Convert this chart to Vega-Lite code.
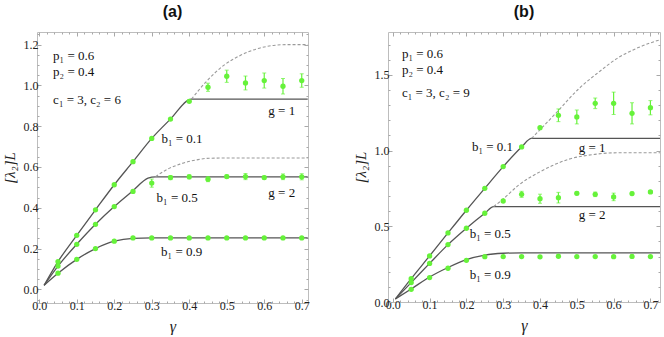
{
  "$schema": "https://vega.github.io/schema/vega-lite/v6.json",
  "padding": {"left": 1, "top": 3, "right": 0, "bottom": 0},
  "spacing": 41,
  "config": {
    "view": {"stroke": "#bdbdbd", "strokeWidth": 1},
    "axis": {"domain": false, "grid": false, "tickColor": "#a8a8a8", "tickWidth": 1, "labelFont": "Liberation Serif", "labelFontSize": 12, "labelColor": "#222222", "titleFont": "Liberation Serif", "titleFontStyle": "italic", "titleFontWeight": "normal", "titleColor": "#222222", "titleFontSize": 15, "labelFlush": false, "labelOverlap": false},
    "title": {"font": "Liberation Sans", "fontSize": 16, "fontWeight": "bold", "offset": 12, "anchor": "middle", "color": "#111111"}
  },
  "datasets": {
    "solid": [
      {"panel": "a", "curve": "0.1", "x": 0.013, "y": 0.02},
      {"panel": "a", "curve": "0.1", "x": 0.05, "y": 0.136},
      {"panel": "a", "curve": "0.1", "x": 0.1, "y": 0.265},
      {"panel": "a", "curve": "0.1", "x": 0.15, "y": 0.39},
      {"panel": "a", "curve": "0.1", "x": 0.2, "y": 0.513},
      {"panel": "a", "curve": "0.1", "x": 0.25, "y": 0.626},
      {"panel": "a", "curve": "0.1", "x": 0.3, "y": 0.74},
      {"panel": "a", "curve": "0.1", "x": 0.35, "y": 0.835},
      {"panel": "a", "curve": "0.1", "x": 0.406, "y": 0.933},
      {"panel": "a", "curve": "0.1", "x": 0.716, "y": 0.933},
      {"panel": "a", "curve": "0.5", "x": 0.013, "y": 0.02},
      {"panel": "a", "curve": "0.5", "x": 0.05, "y": 0.114},
      {"panel": "a", "curve": "0.5", "x": 0.1, "y": 0.221},
      {"panel": "a", "curve": "0.5", "x": 0.15, "y": 0.319},
      {"panel": "a", "curve": "0.5", "x": 0.2, "y": 0.406},
      {"panel": "a", "curve": "0.5", "x": 0.25, "y": 0.484},
      {"panel": "a", "curve": "0.5", "x": 0.29, "y": 0.545},
      {"panel": "a", "curve": "0.5", "x": 0.31, "y": 0.552},
      {"panel": "a", "curve": "0.5", "x": 0.716, "y": 0.552},
      {"panel": "a", "curve": "0.9", "x": 0.013, "y": 0.02},
      {"panel": "a", "curve": "0.9", "x": 0.05, "y": 0.079},
      {"panel": "a", "curve": "0.9", "x": 0.1, "y": 0.147},
      {"panel": "a", "curve": "0.9", "x": 0.15, "y": 0.2},
      {"panel": "a", "curve": "0.9", "x": 0.2, "y": 0.236},
      {"panel": "a", "curve": "0.9", "x": 0.25, "y": 0.25},
      {"panel": "a", "curve": "0.9", "x": 0.3, "y": 0.252},
      {"panel": "a", "curve": "0.9", "x": 0.716, "y": 0.252},
      {"panel": "b", "curve": "0.1", "x": 0.007, "y": 0.02},
      {"panel": "b", "curve": "0.1", "x": 0.05, "y": 0.154},
      {"panel": "b", "curve": "0.1", "x": 0.1, "y": 0.304},
      {"panel": "b", "curve": "0.1", "x": 0.15, "y": 0.456},
      {"panel": "b", "curve": "0.1", "x": 0.2, "y": 0.606},
      {"panel": "b", "curve": "0.1", "x": 0.25, "y": 0.751},
      {"panel": "b", "curve": "0.1", "x": 0.3, "y": 0.894},
      {"panel": "b", "curve": "0.1", "x": 0.35, "y": 1.024},
      {"panel": "b", "curve": "0.1", "x": 0.377, "y": 1.08},
      {"panel": "b", "curve": "0.1", "x": 0.726, "y": 1.08},
      {"panel": "b", "curve": "0.5", "x": 0.007, "y": 0.02},
      {"panel": "b", "curve": "0.5", "x": 0.05, "y": 0.128},
      {"panel": "b", "curve": "0.5", "x": 0.1, "y": 0.255},
      {"panel": "b", "curve": "0.5", "x": 0.15, "y": 0.379},
      {"panel": "b", "curve": "0.5", "x": 0.2, "y": 0.487},
      {"panel": "b", "curve": "0.5", "x": 0.25, "y": 0.586},
      {"panel": "b", "curve": "0.5", "x": 0.274, "y": 0.63},
      {"panel": "b", "curve": "0.5", "x": 0.726, "y": 0.63},
      {"panel": "b", "curve": "0.9", "x": 0.007, "y": 0.02},
      {"panel": "b", "curve": "0.9", "x": 0.05, "y": 0.086},
      {"panel": "b", "curve": "0.9", "x": 0.1, "y": 0.165},
      {"panel": "b", "curve": "0.9", "x": 0.15, "y": 0.228},
      {"panel": "b", "curve": "0.9", "x": 0.2, "y": 0.28},
      {"panel": "b", "curve": "0.9", "x": 0.25, "y": 0.31},
      {"panel": "b", "curve": "0.9", "x": 0.3, "y": 0.322},
      {"panel": "b", "curve": "0.9", "x": 0.35, "y": 0.325},
      {"panel": "b", "curve": "0.9", "x": 0.726, "y": 0.325}
    ],
    "dashed": [
      {"panel": "a", "curve": "0.1", "x": 0.406, "y": 0.933},
      {"panel": "a", "curve": "0.1", "x": 0.446, "y": 1.02},
      {"panel": "a", "curve": "0.1", "x": 0.491, "y": 1.097},
      {"panel": "a", "curve": "0.1", "x": 0.535, "y": 1.146},
      {"panel": "a", "curve": "0.1", "x": 0.58, "y": 1.179},
      {"panel": "a", "curve": "0.1", "x": 0.624, "y": 1.196},
      {"panel": "a", "curve": "0.1", "x": 0.66, "y": 1.2},
      {"panel": "a", "curve": "0.1", "x": 0.716, "y": 1.2},
      {"panel": "a", "curve": "0.5", "x": 0.31, "y": 0.552},
      {"panel": "a", "curve": "0.5", "x": 0.335, "y": 0.582},
      {"panel": "a", "curve": "0.5", "x": 0.375, "y": 0.614},
      {"panel": "a", "curve": "0.5", "x": 0.42, "y": 0.635},
      {"panel": "a", "curve": "0.5", "x": 0.446, "y": 0.642},
      {"panel": "a", "curve": "0.5", "x": 0.5, "y": 0.644},
      {"panel": "a", "curve": "0.5", "x": 0.716, "y": 0.644},
      {"panel": "b", "curve": "0.1", "x": 0.377, "y": 1.08},
      {"panel": "b", "curve": "0.1", "x": 0.449, "y": 1.262},
      {"panel": "b", "curve": "0.1", "x": 0.504, "y": 1.405},
      {"panel": "b", "curve": "0.1", "x": 0.558, "y": 1.515},
      {"panel": "b", "curve": "0.1", "x": 0.613, "y": 1.614},
      {"panel": "b", "curve": "0.1", "x": 0.667, "y": 1.68},
      {"panel": "b", "curve": "0.1", "x": 0.726, "y": 1.732},
      {"panel": "b", "curve": "0.5", "x": 0.274, "y": 0.63},
      {"panel": "b", "curve": "0.5", "x": 0.3, "y": 0.68},
      {"panel": "b", "curve": "0.5", "x": 0.341, "y": 0.77},
      {"panel": "b", "curve": "0.5", "x": 0.404, "y": 0.865},
      {"panel": "b", "curve": "0.5", "x": 0.477, "y": 0.942},
      {"panel": "b", "curve": "0.5", "x": 0.549, "y": 0.975},
      {"panel": "b", "curve": "0.5", "x": 0.6, "y": 0.985},
      {"panel": "b", "curve": "0.5", "x": 0.726, "y": 0.986}
    ],
    "pts": [
      {"panel": "a", "b1": "0.1", "x": 0.05, "y": 0.136},
      {"panel": "a", "b1": "0.1", "x": 0.1, "y": 0.265},
      {"panel": "a", "b1": "0.1", "x": 0.15, "y": 0.39},
      {"panel": "a", "b1": "0.1", "x": 0.2, "y": 0.513},
      {"panel": "a", "b1": "0.1", "x": 0.25, "y": 0.626},
      {"panel": "a", "b1": "0.1", "x": 0.3, "y": 0.74},
      {"panel": "a", "b1": "0.1", "x": 0.35, "y": 0.835},
      {"panel": "a", "b1": "0.1", "x": 0.4, "y": 0.922},
      {"panel": "a", "b1": "0.1", "x": 0.45, "y": 0.991, "lo": 0.971, "hi": 1.011},
      {"panel": "a", "b1": "0.1", "x": 0.5, "y": 1.045, "lo": 1.015, "hi": 1.075},
      {"panel": "a", "b1": "0.1", "x": 0.55, "y": 1.012, "lo": 0.978, "hi": 1.046},
      {"panel": "a", "b1": "0.1", "x": 0.6, "y": 1.024, "lo": 0.987, "hi": 1.061},
      {"panel": "a", "b1": "0.1", "x": 0.65, "y": 0.996, "lo": 0.958, "hi": 1.034},
      {"panel": "a", "b1": "0.1", "x": 0.7, "y": 1.024, "lo": 0.991, "hi": 1.057},
      {"panel": "a", "b1": "0.5", "x": 0.05, "y": 0.114},
      {"panel": "a", "b1": "0.5", "x": 0.1, "y": 0.221},
      {"panel": "a", "b1": "0.5", "x": 0.15, "y": 0.319},
      {"panel": "a", "b1": "0.5", "x": 0.2, "y": 0.406},
      {"panel": "a", "b1": "0.5", "x": 0.25, "y": 0.48},
      {"panel": "a", "b1": "0.5", "x": 0.3, "y": 0.521, "lo": 0.501, "hi": 0.541},
      {"panel": "a", "b1": "0.5", "x": 0.35, "y": 0.548, "lo": 0.538, "hi": 0.558},
      {"panel": "a", "b1": "0.5", "x": 0.4, "y": 0.552, "lo": 0.542, "hi": 0.562},
      {"panel": "a", "b1": "0.5", "x": 0.45, "y": 0.54, "lo": 0.528, "hi": 0.552},
      {"panel": "a", "b1": "0.5", "x": 0.5, "y": 0.553, "lo": 0.545, "hi": 0.561},
      {"panel": "a", "b1": "0.5", "x": 0.55, "y": 0.553, "lo": 0.538, "hi": 0.568},
      {"panel": "a", "b1": "0.5", "x": 0.6, "y": 0.548, "lo": 0.54, "hi": 0.556},
      {"panel": "a", "b1": "0.5", "x": 0.65, "y": 0.552, "lo": 0.538, "hi": 0.566},
      {"panel": "a", "b1": "0.5", "x": 0.7, "y": 0.552, "lo": 0.537, "hi": 0.567},
      {"panel": "a", "b1": "0.9", "x": 0.05, "y": 0.079},
      {"panel": "a", "b1": "0.9", "x": 0.1, "y": 0.147},
      {"panel": "a", "b1": "0.9", "x": 0.15, "y": 0.2},
      {"panel": "a", "b1": "0.9", "x": 0.2, "y": 0.236},
      {"panel": "a", "b1": "0.9", "x": 0.25, "y": 0.252},
      {"panel": "a", "b1": "0.9", "x": 0.3, "y": 0.252},
      {"panel": "a", "b1": "0.9", "x": 0.35, "y": 0.252},
      {"panel": "a", "b1": "0.9", "x": 0.4, "y": 0.252},
      {"panel": "a", "b1": "0.9", "x": 0.45, "y": 0.252},
      {"panel": "a", "b1": "0.9", "x": 0.5, "y": 0.252},
      {"panel": "a", "b1": "0.9", "x": 0.55, "y": 0.252},
      {"panel": "a", "b1": "0.9", "x": 0.6, "y": 0.252},
      {"panel": "a", "b1": "0.9", "x": 0.65, "y": 0.252},
      {"panel": "a", "b1": "0.9", "x": 0.7, "y": 0.252},
      {"panel": "b", "b1": "0.1", "x": 0.05, "y": 0.154},
      {"panel": "b", "b1": "0.1", "x": 0.1, "y": 0.304},
      {"panel": "b", "b1": "0.1", "x": 0.15, "y": 0.456},
      {"panel": "b", "b1": "0.1", "x": 0.2, "y": 0.606},
      {"panel": "b", "b1": "0.1", "x": 0.25, "y": 0.751},
      {"panel": "b", "b1": "0.1", "x": 0.3, "y": 0.894},
      {"panel": "b", "b1": "0.1", "x": 0.35, "y": 1.024},
      {"panel": "b", "b1": "0.1", "x": 0.4, "y": 1.151},
      {"panel": "b", "b1": "0.1", "x": 0.45, "y": 1.233, "lo": 1.191, "hi": 1.275},
      {"panel": "b", "b1": "0.1", "x": 0.5, "y": 1.222, "lo": 1.176, "hi": 1.268},
      {"panel": "b", "b1": "0.1", "x": 0.55, "y": 1.312, "lo": 1.277, "hi": 1.347},
      {"panel": "b", "b1": "0.1", "x": 0.6, "y": 1.312, "lo": 1.238, "hi": 1.386},
      {"panel": "b", "b1": "0.1", "x": 0.65, "y": 1.246, "lo": 1.176, "hi": 1.316},
      {"panel": "b", "b1": "0.1", "x": 0.7, "y": 1.283, "lo": 1.236, "hi": 1.33},
      {"panel": "b", "b1": "0.5", "x": 0.05, "y": 0.128},
      {"panel": "b", "b1": "0.5", "x": 0.1, "y": 0.255},
      {"panel": "b", "b1": "0.5", "x": 0.15, "y": 0.379},
      {"panel": "b", "b1": "0.5", "x": 0.2, "y": 0.487},
      {"panel": "b", "b1": "0.5", "x": 0.25, "y": 0.586},
      {"panel": "b", "b1": "0.5", "x": 0.3, "y": 0.667},
      {"panel": "b", "b1": "0.5", "x": 0.35, "y": 0.711, "lo": 0.691, "hi": 0.731},
      {"panel": "b", "b1": "0.5", "x": 0.4, "y": 0.682, "lo": 0.652, "hi": 0.712},
      {"panel": "b", "b1": "0.5", "x": 0.45, "y": 0.689, "lo": 0.654, "hi": 0.724},
      {"panel": "b", "b1": "0.5", "x": 0.5, "y": 0.718, "lo": 0.708, "hi": 0.728},
      {"panel": "b", "b1": "0.5", "x": 0.55, "y": 0.711, "lo": 0.696, "hi": 0.726},
      {"panel": "b", "b1": "0.5", "x": 0.6, "y": 0.694, "lo": 0.669, "hi": 0.719},
      {"panel": "b", "b1": "0.5", "x": 0.65, "y": 0.716, "lo": 0.706, "hi": 0.726},
      {"panel": "b", "b1": "0.5", "x": 0.7, "y": 0.727, "lo": 0.719, "hi": 0.735},
      {"panel": "b", "b1": "0.9", "x": 0.05, "y": 0.084},
      {"panel": "b", "b1": "0.9", "x": 0.1, "y": 0.161},
      {"panel": "b", "b1": "0.9", "x": 0.15, "y": 0.223},
      {"panel": "b", "b1": "0.9", "x": 0.2, "y": 0.275},
      {"panel": "b", "b1": "0.9", "x": 0.25, "y": 0.299},
      {"panel": "b", "b1": "0.9", "x": 0.3, "y": 0.3},
      {"panel": "b", "b1": "0.9", "x": 0.35, "y": 0.3},
      {"panel": "b", "b1": "0.9", "x": 0.4, "y": 0.298},
      {"panel": "b", "b1": "0.9", "x": 0.45, "y": 0.302},
      {"panel": "b", "b1": "0.9", "x": 0.5, "y": 0.3},
      {"panel": "b", "b1": "0.9", "x": 0.55, "y": 0.3},
      {"panel": "b", "b1": "0.9", "x": 0.6, "y": 0.299},
      {"panel": "b", "b1": "0.9", "x": 0.65, "y": 0.301},
      {"panel": "b", "b1": "0.9", "x": 0.7, "y": 0.3}
    ],
    "labels": [
      {"panel": "a", "x": 0.037, "y": 1.143, "text": "p₁ = 0.6"},
      {"panel": "a", "x": 0.037, "y": 1.064, "text": "p₂ = 0.4"},
      {"panel": "a", "x": 0.037, "y": 0.93, "text": "c₁ = 3,  c₂ = 6"},
      {"panel": "a", "x": 0.326, "y": 0.737, "text": "b₁ = 0.1"},
      {"panel": "a", "x": 0.611, "y": 0.876, "text": "g = 1"},
      {"panel": "a", "x": 0.313, "y": 0.45, "text": "b₁ = 0.5"},
      {"panel": "a", "x": 0.611, "y": 0.47, "text": "g = 2"},
      {"panel": "a", "x": 0.325, "y": 0.183, "text": "b₁ = 0.9"},
      {"panel": "b", "x": 0.025, "y": 1.636, "text": "p₁ = 0.6"},
      {"panel": "b", "x": 0.025, "y": 1.532, "text": "p₂ = 0.4"},
      {"panel": "b", "x": 0.025, "y": 1.382, "text": "c₁ = 3,  c₂ = 9"},
      {"panel": "b", "x": 0.215, "y": 1.026, "text": "b₁ = 0.1"},
      {"panel": "b", "x": 0.505, "y": 1.019, "text": "g = 1"},
      {"panel": "b", "x": 0.505, "y": 0.573, "text": "g = 2"},
      {"panel": "b", "x": 0.209, "y": 0.447, "text": "b₁ = 0.5"},
      {"panel": "b", "x": 0.209, "y": 0.178, "text": "b₁ = 0.9"}
    ]
  },
  "hconcat": [
    {
      "title": "(a)",
      "width": 271,
      "height": 271,
      "resolve": {"axis": {"x": "independent", "y": "independent"}},
      "layer": [
        {
          "data": {"name": "solid"},
          "transform": [{"filter": "datum.panel == 'a'"}],
          "mark": {"type": "line", "color": "#555555", "strokeWidth": 1.3, "interpolate": "monotone"},
          "encoding": {
            "x": {"field": "x", "type": "quantitative", "scale": {"domain": [-0.006, 0.7167], "nice": false, "zero": false},
                  "axis": {"orient": "bottom", "values": [0, 0.1, 0.2, 0.3, 0.4, 0.5, 0.6, 0.7], "format": ".1f", "tickSize": -4, "labelPadding": 1, "title": "γ", "titlePadding": 7, "titleFontSize": 16}},
            "y": {"field": "y", "type": "quantitative", "scale": {"domain": [-0.067, 1.262], "nice": false, "zero": false},
                  "axis": {"orient": "left", "values": [0, 0.2, 0.4, 0.6, 0.8, 1.0, 1.2], "format": ".1f", "tickSize": -4, "labelPadding": 3, "title": "[λ₂]L", "titlePadding": 6}},
            "detail": {"field": "curve"}
          }
        },
        {
          "data": {"name": "dashed"},
          "transform": [{"filter": "datum.panel == 'a'"}],
          "mark": {"type": "line", "color": "#9a9a9a", "strokeWidth": 1.1, "strokeDash": [3, 2], "interpolate": "monotone"},
          "encoding": {
            "x": {"field": "x", "type": "quantitative", "scale": {"domain": [-0.006, 0.7167], "nice": false, "zero": false},
                  "axis": {"orient": "top", "values": [0, 0.1, 0.2, 0.3, 0.4, 0.5, 0.6, 0.7], "tickSize": -4, "labels": false, "title": null}},
            "y": {"field": "y", "type": "quantitative", "scale": {"domain": [-0.067, 1.262], "nice": false, "zero": false},
                  "axis": {"orient": "right", "values": [0, 0.2, 0.4, 0.6, 0.8, 1.0, 1.2], "tickSize": -4, "labels": false, "title": null}},
            "detail": {"field": "curve"}
          }
        },
        {
          "data": {"name": "pts"},
          "transform": [{"filter": "datum.panel == 'a' && datum.lo != null"}],
          "mark": {"type": "rule", "color": "#66f23a", "strokeWidth": 1.2},
          "encoding": {
            "x": {"field": "x", "type": "quantitative", "scale": {"domain": [-0.006, 0.7167], "nice": false, "zero": false},
                  "axis": {"orient": "bottom", "values": [0.02, 0.04, 0.06, 0.08, 0.12, 0.14, 0.16, 0.18, 0.22, 0.24, 0.26, 0.28, 0.32, 0.34, 0.36, 0.38, 0.42, 0.44, 0.46, 0.48, 0.52, 0.54, 0.56, 0.58, 0.62, 0.64, 0.66, 0.68], "tickSize": -2, "labels": false, "title": null}},
            "y": {"field": "lo", "type": "quantitative", "scale": {"domain": [-0.067, 1.262], "nice": false, "zero": false},
                  "axis": {"orient": "left", "values": [-0.05, 0.05, 0.1, 0.15, 0.25, 0.3, 0.35, 0.45, 0.5, 0.55, 0.65, 0.7, 0.75, 0.85, 0.9, 0.95, 1.05, 1.1, 1.15, 1.25], "tickSize": -2, "labels": false, "title": null}},
            "y2": {"field": "hi"}
          }
        },
        {
          "data": {"name": "pts"},
          "transform": [{"filter": "datum.panel == 'a' && datum.lo != null"}],
          "mark": {"type": "tick", "orient": "horizontal", "size": 4, "thickness": 1, "color": "#66f23a"},
          "encoding": {
            "x": {"field": "x", "type": "quantitative", "scale": {"domain": [-0.006, 0.7167], "nice": false, "zero": false},
                  "axis": {"orient": "top", "values": [0.02, 0.04, 0.06, 0.08, 0.12, 0.14, 0.16, 0.18, 0.22, 0.24, 0.26, 0.28, 0.32, 0.34, 0.36, 0.38, 0.42, 0.44, 0.46, 0.48, 0.52, 0.54, 0.56, 0.58, 0.62, 0.64, 0.66, 0.68], "tickSize": -2, "labels": false, "title": null}},
            "y": {"field": "lo", "type": "quantitative", "scale": {"domain": [-0.067, 1.262], "nice": false, "zero": false},
                  "axis": {"orient": "right", "values": [-0.05, 0.05, 0.1, 0.15, 0.25, 0.3, 0.35, 0.45, 0.5, 0.55, 0.65, 0.7, 0.75, 0.85, 0.9, 0.95, 1.05, 1.1, 1.15, 1.25], "tickSize": -2, "labels": false, "title": null}}
          }
        },
        {
          "data": {"name": "pts"},
          "transform": [{"filter": "datum.panel == 'a' && datum.hi != null"}],
          "mark": {"type": "tick", "orient": "horizontal", "size": 4, "thickness": 1, "color": "#66f23a"},
          "encoding": {
            "x": {"field": "x", "type": "quantitative", "scale": {"domain": [-0.006, 0.7167], "nice": false, "zero": false}, "axis": null},
            "y": {"field": "hi", "type": "quantitative", "scale": {"domain": [-0.067, 1.262], "nice": false, "zero": false}, "axis": null}
          }
        },
        {
          "data": {"name": "pts"},
          "transform": [{"filter": "datum.panel == 'a'"}],
          "mark": {"type": "circle", "size": 28, "color": "#66f23a", "opacity": 1},
          "encoding": {
            "x": {"field": "x", "type": "quantitative", "scale": {"domain": [-0.006, 0.7167], "nice": false, "zero": false}, "axis": null},
            "y": {"field": "y", "type": "quantitative", "scale": {"domain": [-0.067, 1.262], "nice": false, "zero": false}, "axis": null}
          }
        },
        {
          "data": {"name": "labels"},
          "transform": [{"filter": "datum.panel == 'a'"}],
          "mark": {"type": "text", "align": "left", "baseline": "middle", "font": "Liberation Serif", "fontSize": 13, "color": "#111111"},
          "encoding": {
            "x": {"field": "x", "type": "quantitative", "scale": {"domain": [-0.006, 0.7167], "nice": false, "zero": false}, "axis": null},
            "y": {"field": "y", "type": "quantitative", "scale": {"domain": [-0.067, 1.262], "nice": false, "zero": false}, "axis": null},
            "text": {"field": "text"}
          }
        }
      ]
    },
    {
      "title": "(b)",
      "width": 272,
      "height": 270,
      "resolve": {"axis": {"x": "independent", "y": "independent"}},
      "layer": [
        {
          "data": {"name": "solid"},
          "transform": [{"filter": "datum.panel == 'b'"}],
          "mark": {"type": "line", "color": "#555555", "strokeWidth": 1.3, "interpolate": "monotone"},
          "encoding": {
            "x": {"field": "x", "type": "quantitative", "scale": {"domain": [-0.013, 0.726], "nice": false, "zero": false},
                  "axis": {"orient": "bottom", "values": [0, 0.1, 0.2, 0.3, 0.4, 0.5, 0.6, 0.7], "format": ".1f", "tickSize": -4, "labelPadding": 1, "title": "γ", "titlePadding": 7, "titleFontSize": 16}},
            "y": {"field": "y", "type": "quantitative", "scale": {"domain": [0, 1.783], "nice": false, "zero": false},
                  "axis": {"orient": "left", "values": [0, 0.5, 1.0, 1.5], "format": ".1f", "tickSize": -4, "labelPadding": 3, "title": "[λ₂]L", "titlePadding": 6}},
            "detail": {"field": "curve"}
          }
        },
        {
          "data": {"name": "dashed"},
          "transform": [{"filter": "datum.panel == 'b'"}],
          "mark": {"type": "line", "color": "#9a9a9a", "strokeWidth": 1.1, "strokeDash": [3, 2], "interpolate": "monotone"},
          "encoding": {
            "x": {"field": "x", "type": "quantitative", "scale": {"domain": [-0.013, 0.726], "nice": false, "zero": false},
                  "axis": {"orient": "top", "values": [0, 0.1, 0.2, 0.3, 0.4, 0.5, 0.6, 0.7], "tickSize": -4, "labels": false, "title": null}},
            "y": {"field": "y", "type": "quantitative", "scale": {"domain": [0, 1.783], "nice": false, "zero": false},
                  "axis": {"orient": "right", "values": [0, 0.5, 1.0, 1.5], "tickSize": -4, "labels": false, "title": null}},
            "detail": {"field": "curve"}
          }
        },
        {
          "data": {"name": "pts"},
          "transform": [{"filter": "datum.panel == 'b' && datum.lo != null"}],
          "mark": {"type": "rule", "color": "#66f23a", "strokeWidth": 1.2},
          "encoding": {
            "x": {"field": "x", "type": "quantitative", "scale": {"domain": [-0.013, 0.726], "nice": false, "zero": false},
                  "axis": {"orient": "bottom", "values": [0.02, 0.04, 0.06, 0.08, 0.12, 0.14, 0.16, 0.18, 0.22, 0.24, 0.26, 0.28, 0.32, 0.34, 0.36, 0.38, 0.42, 0.44, 0.46, 0.48, 0.52, 0.54, 0.56, 0.58, 0.62, 0.64, 0.66, 0.68, 0.72], "tickSize": -2, "labels": false, "title": null}},
            "y": {"field": "lo", "type": "quantitative", "scale": {"domain": [0, 1.783], "nice": false, "zero": false},
                  "axis": {"orient": "left", "values": [0.1, 0.2, 0.3, 0.4, 0.6, 0.7, 0.8, 0.9, 1.1, 1.2, 1.3, 1.4, 1.6, 1.7], "tickSize": -2, "labels": false, "title": null}},
            "y2": {"field": "hi"}
          }
        },
        {
          "data": {"name": "pts"},
          "transform": [{"filter": "datum.panel == 'b' && datum.lo != null"}],
          "mark": {"type": "tick", "orient": "horizontal", "size": 4, "thickness": 1, "color": "#66f23a"},
          "encoding": {
            "x": {"field": "x", "type": "quantitative", "scale": {"domain": [-0.013, 0.726], "nice": false, "zero": false},
                  "axis": {"orient": "top", "values": [0.02, 0.04, 0.06, 0.08, 0.12, 0.14, 0.16, 0.18, 0.22, 0.24, 0.26, 0.28, 0.32, 0.34, 0.36, 0.38, 0.42, 0.44, 0.46, 0.48, 0.52, 0.54, 0.56, 0.58, 0.62, 0.64, 0.66, 0.68, 0.72], "tickSize": -2, "labels": false, "title": null}},
            "y": {"field": "lo", "type": "quantitative", "scale": {"domain": [0, 1.783], "nice": false, "zero": false},
                  "axis": {"orient": "right", "values": [0.1, 0.2, 0.3, 0.4, 0.6, 0.7, 0.8, 0.9, 1.1, 1.2, 1.3, 1.4, 1.6, 1.7], "tickSize": -2, "labels": false, "title": null}}
          }
        },
        {
          "data": {"name": "pts"},
          "transform": [{"filter": "datum.panel == 'b' && datum.hi != null"}],
          "mark": {"type": "tick", "orient": "horizontal", "size": 4, "thickness": 1, "color": "#66f23a"},
          "encoding": {
            "x": {"field": "x", "type": "quantitative", "scale": {"domain": [-0.013, 0.726], "nice": false, "zero": false}, "axis": null},
            "y": {"field": "hi", "type": "quantitative", "scale": {"domain": [0, 1.783], "nice": false, "zero": false}, "axis": null}
          }
        },
        {
          "data": {"name": "pts"},
          "transform": [{"filter": "datum.panel == 'b'"}],
          "mark": {"type": "circle", "size": 28, "color": "#66f23a", "opacity": 1},
          "encoding": {
            "x": {"field": "x", "type": "quantitative", "scale": {"domain": [-0.013, 0.726], "nice": false, "zero": false}, "axis": null},
            "y": {"field": "y", "type": "quantitative", "scale": {"domain": [0, 1.783], "nice": false, "zero": false}, "axis": null}
          }
        },
        {
          "data": {"name": "labels"},
          "transform": [{"filter": "datum.panel == 'b'"}],
          "mark": {"type": "text", "align": "left", "baseline": "middle", "font": "Liberation Serif", "fontSize": 13, "color": "#111111"},
          "encoding": {
            "x": {"field": "x", "type": "quantitative", "scale": {"domain": [-0.013, 0.726], "nice": false, "zero": false}, "axis": null},
            "y": {"field": "y", "type": "quantitative", "scale": {"domain": [0, 1.783], "nice": false, "zero": false}, "axis": null},
            "text": {"field": "text"}
          }
        }
      ]
    }
  ]
}
